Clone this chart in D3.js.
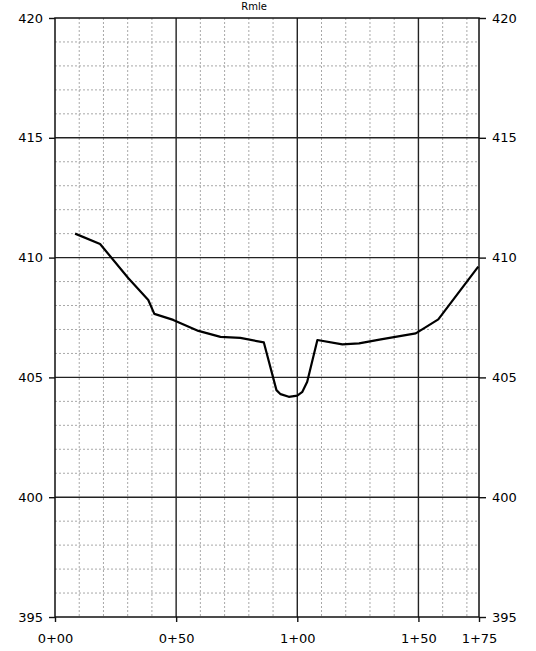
<!DOCTYPE html>
<html><head><meta charset="utf-8">
<script src="https://cdn.jsdelivr.net/npm/d3@7"></script>
<style>
html,body{margin:0;padding:0;background:#fff;}
svg{display:block;font-family:"DejaVu Sans",Verdana,sans-serif;}
</style></head>
<body>
<script>
const title = "Rmle";
const stations = [8.3, 18.6, 30.2, 38.5, 41.0, 48.8, 59.2, 68.3, 76.5, 86.2, 91.4, 93.1, 96.5, 100.0, 102.1, 104.1, 108.3, 118.6, 125.5, 134.5, 148.9, 158.2, 174.7];
const elevations = [411.0, 410.57, 409.15, 408.23, 407.65, 407.4, 406.94, 406.69, 406.65, 406.46, 404.47, 404.3, 404.19, 404.24, 404.4, 404.82, 406.56, 406.38, 406.42, 406.59, 406.84, 407.42, 409.62];
const xTickValues = [0, 50, 100, 150, 175];
const xTickLabels = ["0+00", "0+50", "1+00", "1+50", "1+75"];
const xMinorValues = [10, 20, 30, 40, 60, 70, 80, 90, 110, 120, 130, 140, 160, 170];
const yTickValues = [395, 400, 405, 410, 415, 420];
const yMinorValues = [396,397,398,399,401,402,403,404,406,407,408,409,411,412,413,414,416,417,418,419];

const W = 536, H = 651;
const m = {left: 55, right: 479, top: 18, bottom: 617};
const svg = d3.select("body").append("svg").attr("width", W).attr("height", H);
const x = d3.scaleLinear().domain([0, 175]).range([m.left, m.right]);
const y = d3.scaleLinear().domain([395, 420]).range([m.bottom, m.top]);

// minor grid
const g = svg.append("g");
g.selectAll(".vmin").data(xMinorValues).join("line")
  .attr("x1", d => x(d)).attr("x2", d => x(d)).attr("y1", m.top).attr("y2", m.bottom)
  .attr("stroke", "#a8a8a8").attr("stroke-width", 1).attr("stroke-dasharray", "2,2");
g.selectAll(".hmin").data(yMinorValues).join("line")
  .attr("y1", d => y(d)).attr("y2", d => y(d)).attr("x1", m.left).attr("x2", m.right)
  .attr("stroke", "#a8a8a8").attr("stroke-width", 1).attr("stroke-dasharray", "2,2");
// major grid
g.selectAll(".vmaj").data([50, 100, 150]).join("line")
  .attr("x1", d => x(d)).attr("x2", d => x(d)).attr("y1", m.top).attr("y2", m.bottom)
  .attr("stroke", "#222").attr("stroke-width", 1.4);
g.selectAll(".hmaj").data([400, 405, 410, 415]).join("line")
  .attr("y1", d => y(d)).attr("y2", d => y(d)).attr("x1", m.left).attr("x2", m.right)
  .attr("stroke", "#222").attr("stroke-width", 1.4);

// border
svg.append("rect").attr("x", m.left).attr("y", m.top).attr("width", m.right - m.left).attr("height", m.bottom - m.top)
  .attr("fill", "none").attr("stroke", "#111").attr("stroke-width", 1.5);

// axes
const fontSize = "13px";
const left = svg.append("g").attr("transform", `translate(${m.left},0)`)
  .call(d3.axisLeft(y).tickValues(yTickValues).tickFormat(d3.format("d")).tickSize(6).tickPadding(6));
const right = svg.append("g").attr("transform", `translate(${m.right},0)`)
  .call(d3.axisRight(y).tickValues(yTickValues).tickFormat(d3.format("d")).tickSize(7).tickPadding(6));
const bottom = svg.append("g").attr("transform", `translate(0,${m.bottom})`)
  .call(d3.axisBottom(x).tickValues(xTickValues).tickFormat((d, i) => xTickLabels[i]).tickSize(5).tickPadding(12));
[left, right, bottom].forEach(a => {
  a.select(".domain").remove();
  a.selectAll(".tick line").attr("stroke", "#111").attr("stroke-width", 1.4);
  a.selectAll("text").attr("font-size", fontSize).attr("fill", "#000")
    .attr("font-family", '"DejaVu Sans",Verdana,sans-serif');
});

// profile
svg.append("path")
  .datum(stations.map((s, i) => [s, elevations[i]]))
  .attr("fill", "none").attr("stroke", "#000").attr("stroke-width", 2.2).attr("stroke-linejoin", "round")
  .attr("d", d3.line().x(d => x(d[0])).y(d => y(d[1])));

// title
svg.append("text").attr("x", 254).attr("y", 10).attr("text-anchor", "middle")
  .attr("font-size", "10px").text(title);
</script>
</body></html>
